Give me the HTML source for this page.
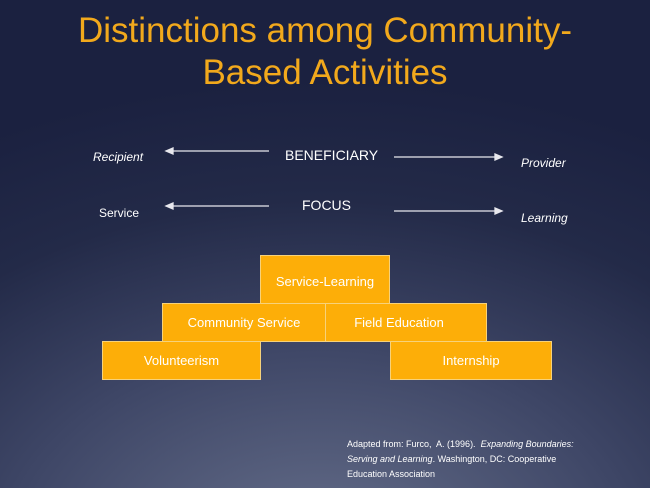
<!DOCTYPE html>
<html><head><meta charset="utf-8"><style>
html,body{margin:0;padding:0}
body{width:650px;height:488px;position:relative;overflow:hidden;font-family:"Liberation Sans",sans-serif;
background:radial-gradient(ellipse 700px 480px at 320px 560px,#67708c 0%,#3e4666 45%,#232a48 75%,#1b2140 100%);}
.t{position:absolute;color:#f2a91c;font-size:35px;line-height:42px;left:0;width:650px;text-align:center;top:10px}
.l{position:absolute;color:#fff;font-size:12px}
.i{font-style:italic}
.b{position:absolute;background:#fdae08;border:1px solid #f7d27a;box-sizing:border-box;color:#fff;font-size:13px;display:flex;align-items:center;justify-content:center}
svg{position:absolute;left:0;top:0}
</style></head><body>
<div class="t">Distinctions among Community-<br>Based Activities</div>
<div class="l i" style="left:93px;top:150px">Recipient</div>
<div class="l" style="left:285px;top:147px;font-size:14px">BENEFICIARY</div>
<div class="l i" style="left:521px;top:156px">Provider</div>
<div class="l" style="left:99px;top:206px">Service</div>
<div class="l" style="left:302px;top:197px;font-size:14px">FOCUS</div>
<div class="l i" style="left:521px;top:211px">Learning</div>
<svg width="650" height="488"><g stroke="#e8e8ee" stroke-width="1.3" fill="#e8e8ee">
<line x1="170" y1="151" x2="269" y2="151"/><polygon points="166,151 173,148 173,154"/>
<line x1="394" y1="157" x2="498" y2="157"/><polygon points="502,157 495,154 495,160"/>
<line x1="170" y1="206" x2="269" y2="206"/><polygon points="166,206 173,203 173,209"/>
<line x1="394" y1="211" x2="498" y2="211"/><polygon points="502,211 495,208 495,214"/>
</g></svg>
<div class="b" style="left:260px;top:255px;width:130px;height:49px;padding-top:4px">Service-Learning</div>
<div class="b" style="left:162px;top:303px;width:164px;height:39px">Community Service</div>
<div class="b" style="left:325px;top:303px;width:162px;height:39px;padding-right:14px">Field Education</div>
<div class="b" style="left:102px;top:341px;width:159px;height:39px">Volunteerism</div>
<div class="b" style="left:390px;top:341px;width:162px;height:39px">Internship</div>
<div class="l" style="left:347px;top:437px;font-size:9px;line-height:15px;white-space:nowrap">Adapted from: Furco,&nbsp; A. (1996).&nbsp; <i>Expanding Boundaries:</i><br><i>Serving and Learning</i>. Washington, DC: Cooperative<br>Education Association</div>
</body></html>
